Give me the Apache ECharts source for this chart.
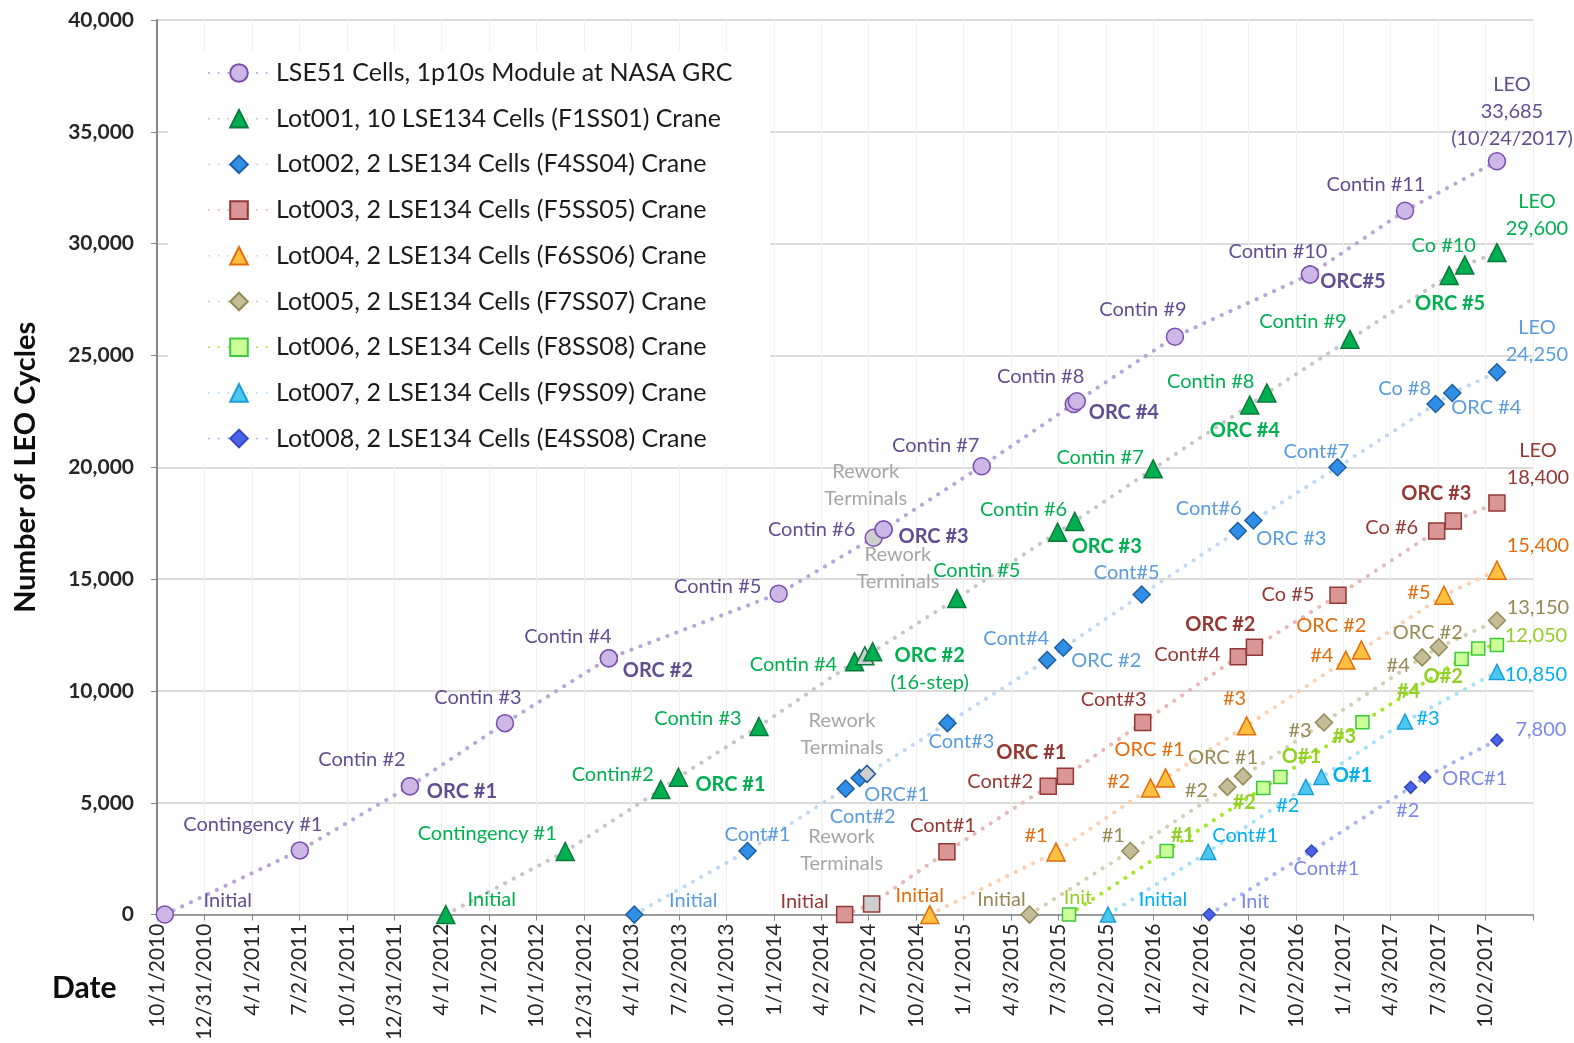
<!DOCTYPE html>
<html>
<head>
<meta charset="utf-8">
<title>LEO cycles by lot</title>
<script src="https://cdn.jsdelivr.net/npm/echarts@6/dist/echarts.min.js"></script>
<style>
  html, body { margin: 0; padding: 0; background: #fff; }
  #chart { width: 1574px; height: 1043px; }
</style>
</head>
<body>
<div id="chart"></div>
<script>
// x axis tick labels (Excel date axis, ~91.36 day step from 10/1/2010)
const dateTicks = ['10/1/2010', '12/31/2010', '4/1/2011', '7/2/2011', '10/1/2011', '12/31/2011',
  '4/1/2012', '7/1/2012', '10/1/2012', '12/31/2012', '4/1/2013', '7/2/2013', '10/1/2013',
  '1/1/2014', '4/2/2014', '7/2/2014', '10/2/2014', '1/1/2015', '4/3/2015', '7/3/2015',
  '10/2/2015', '1/2/2016', '4/2/2016', '7/2/2016', '10/2/2016', '1/1/2017', '4/3/2017',
  '7/3/2017', '10/2/2017']

const seriesNames = [
  'LSE51 Cells, 1p10s Module at NASA GRC',
  'Lot001, 10 LSE134 Cells (F1SS01) Crane',
  'Lot002, 2 LSE134 Cells (F4SS04) Crane',
  'Lot003, 2 LSE134 Cells (F5SS05) Crane',
  'Lot004, 2 LSE134 Cells (F6SS06) Crane',
  'Lot005, 2 LSE134 Cells (F7SS07) Crane',
  'Lot006, 2 LSE134 Cells (F8SS08) Crane',
  'Lot007, 2 LSE134 Cells (F9SS09) Crane',
  'Lot008, 2 LSE134 Cells (E4SS08) Crane'
]

// LSE51 module
const lse51Dates = ['2010-10-16', '2011-07-03', '2012-01-31', '2012-01-31', '2012-08-01', '2013-02-17',
  '2013-02-17', '2014-01-10', '2014-07-12', '2014-07-31', '2014-07-31', '2015-02-05', '2015-08-01',
  '2015-08-07', '2016-02-12', '2016-10-29', '2016-10-29', '2017-04-30', '2017-10-24']
const lse51Cycles = [0, 2870, 5740, 5740, 8560, 11460, 11460, 14350, 16850, 17220, 17220, 20050, 22830,
  22950, 25840, 28620, 28620, 31470, 33685]
const lse51Notes = ['Initial', 'Contingency #1', 'Contin #2', 'ORC #1', 'Contin #3', 'Contin #4', 'ORC #2',
  'Contin #5', 'Rework\nTerminals', 'Contin #6', 'ORC #3', 'Contin #7', 'Contin #8', 'ORC #4', 'Contin #9',
  'Contin #10', 'ORC#5', 'Contin #11', 'LEO\n33,685\n(10/24/2017)']

// Lot001
const lot001Dates = ['2012-04-09', '2012-11-25', '2013-05-28', '2013-07-01', '2013-12-03', '2014-06-05',
  '2014-06-25', '2014-07-10', '2014-12-19', '2015-07-01', '2015-08-03', '2016-01-01', '2016-07-05',
  '2016-08-07', '2017-01-14', '2017-07-24', '2017-08-23', '2017-10-24']
const lot001Cycles = [0, 2820, 5590, 6140, 8410, 11310, 11570, 11750, 14130, 17100, 17580, 19930, 22780,
  23320, 25720, 28580, 29040, 29600]
const lot001Notes = ['Initial', 'Contingency #1', 'Contin#2', 'ORC #1', 'Contin #3', 'Contin #4',
  'Rework\nTerminals', 'ORC #2\n(16-step)', 'Contin #5', 'Contin #6', 'ORC #3', 'Contin #7', 'Contin #8',
  'ORC #4', 'Contin #9', 'ORC #5', 'Co #10', 'LEO\n29,600']

// Lot002
const lot002Dates = ['2013-04-07', '2013-11-11', '2014-05-19', '2014-06-15', '2014-06-29', '2014-12-01',
  '2015-06-11', '2015-07-12', '2015-12-10', '2016-06-12', '2016-07-12', '2016-12-21', '2017-06-28',
  '2017-07-30', '2017-10-24']
const lot002Cycles = [0, 2840, 5630, 6110, 6290, 8560, 11380, 11930, 14310, 17150, 17620, 20000, 22830,
  23320, 24250]
const lot002Notes = ['Initial', 'Cont#1', 'Cont#2', 'ORC#1', 'Rework\nTerminals', 'Cont#3', 'Cont#4',
  'ORC #2', 'Cont#5', 'Cont#6', 'ORC #3', 'Cont#7', 'Co #8', 'ORC #4', 'LEO\n24,250']

// Lot003
const lot003Dates = ['2014-05-17', '2014-07-08', '2014-11-30', '2015-06-13', '2015-07-16', '2015-12-12',
  '2016-06-13', '2016-07-14', '2016-12-22', '2017-06-30', '2017-08-01', '2017-10-24']
const lot003Cycles = [0, 470, 2810, 5740, 6180, 8590, 11530, 11950, 14280, 17150, 17600, 18400]
const lot003Notes = ['Initial', 'Rework\nTerminals', 'Cont#1', 'Cont#2', 'ORC #1', 'Cont#3', 'Cont#4',
  'ORC #2', 'Co #5', 'Co #6', 'ORC #3', 'LEO\n18,400']

// Lot004
const lot004Dates = ['2014-10-28', '2015-06-28', '2015-12-27', '2016-01-25', '2016-06-29', '2017-01-06',
  '2017-02-05', '2017-07-14', '2017-10-24']
const lot004Cycles = [0, 2800, 5660, 6110, 8440, 11380, 11830, 14280, 15400]
const lot004Notes = ['Initial', '#1', '#2', 'ORC #1', '#3', '#4', 'ORC #2', '#5', '15,400']

// Lot005
const lot005Dates = ['2015-05-08', '2015-11-18', '2016-05-23', '2016-06-22', '2016-11-25', '2017-06-02',
  '2017-07-04', '2017-10-24']
const lot005Cycles = [0, 2840, 5710, 6180, 8590, 11500, 11950, 13150]
const lot005Notes = ['Initial', '#1', '#2', 'ORC #1', '#3', '#4', 'ORC #2', '13,150']

// Lot006
const lot006Dates = ['2015-07-23', '2016-01-27', '2016-07-31', '2016-09-02', '2017-02-07', '2017-08-17',
  '2017-09-18', '2017-10-24']
const lot006Cycles = [0, 2840, 5660, 6150, 8600, 11430, 11900, 12050]
const lot006Notes = ['Init', '#1', '#2', 'O#1', '#3', '#4', 'O#2', '12,050']

// Lot007
const lot007Dates = ['2015-10-06', '2016-04-16', '2016-10-21', '2016-11-20', '2017-04-30', '2017-10-24']
const lot007Cycles = [0, 2800, 5710, 6150, 8630, 10850]
const lot007Notes = ['Initial', 'Cont#1', '#2', 'O#1', '#3', '10,850']

// Lot008
const lot008Dates = ['2016-04-18', '2016-11-01', '2017-05-11', '2017-06-07', '2017-10-24']
const lot008Cycles = [0, 2840, 5690, 6140, 7800]
const lot008Notes = ['Init', 'Cont#1', '#2', 'ORC#1', '7,800']

// ---- styling below ----
const BASE = Date.UTC(2010, 9, 1)
const TICK_DAYS = 91.36
const toDay = (s) => (Date.parse(s) - BASE) / 86400000
const FONT = 'Lato'
const LABEL_SIZE = 20

// label centre offsets (px) from each marker
const labelOffsets = [
  [[63, -14], [-47, -26], [-48, -27], [52, 5], [-27, -26], [-41, -22], [49, 12], [-61, -7], [-8, -53],
    [-72, 0], [50, 7], [-46, -21], [-33, -27], [47, 11], [-32, -27], [-32, -23], [43, 7], [-29, -26], [15, -50]],
  [[46, -15], [-78, -18], [-48, -15], [52, 7], [-61, -8], [-61, 3], [33, -88], [57, 17], [20, -28],
    [-34, -23], [32, 25], [-53, -11], [-39, -24], [-22, 38], [-47, -18], [1, 28], [-21, -20], [40, -38]],
  [[59, -14], [10, -17], [17, 28], [37, 17], [-25, -40], [14, 18], [-31, -22], [43, 13], [-15, -22],
    [-29, -22], [38, 18], [-21, -16], [-31, -15], [34, 15], [40, -31]],
  [[-40, -13], [-30, -54], [-4, -26], [-48, -5], [-34, -24], [-29, -23], [-51, -2], [-34, -23], [-50, -1],
    [-45, -3], [-17, -27], [41, -39]],
  [[-10, -19], [-20, -16], [-32, -6], [-16, -28], [-12, -27], [-24, -5], [-30, -24], [-25, -3], [41, -25]],
  [[-28, -15], [-17, -16], [-31, 4], [-20, -19], [-24, 8], [-24, 8], [-11, -15], [41, -13]],
  [[9, -17], [16, -16], [-19, 15], [21, -20], [-18, 14], [-53, 33], [-35, 28], [39, -10]],
  [[55, -15], [37, -16], [-18, 19], [31, -1], [23, -3], [39, 3]],
  [[46, -13], [15, 17], [-3, 23], [50, 1], [44, -11]]
]

// bold: labels starting with one of these prefixes are drawn bold
const styles = [
  { symbol: 'circle', size: 17, fill: '#CDB7E6', border: '#7A4EAE', line: '#B9A6D6', text: '#5E4F92', bold: ['ORC'] },
  { symbol: 'triangle', size: 18, fill: '#00B050', border: '#0A7A3A', line: '#C6C6C6', text: '#00B050', bold: ['ORC'] },
  { symbol: 'diamond', size: 17, fill: '#2F8EE5', border: '#1F5E9E', line: '#C2D8F0', text: '#5B9BDF', bold: [] },
  { symbol: 'rect', size: 16, fill: '#D99694', border: '#953735', line: '#E6B9B8', text: '#953735', bold: ['ORC'] },
  { symbol: 'triangle', size: 18, fill: '#FFC040', border: '#E46C0A', line: '#FAD0AE', text: '#E46C0A', bold: [] },
  { symbol: 'diamond', size: 17, fill: '#C4BD97', border: '#948A54', line: '#D3CFB5', text: '#948A54', bold: [] },
  { symbol: 'rect', size: 13, fill: '#CCFF99', border: '#3CC83C', line: '#A8E62E', text: '#92D025', bold: ['#', 'O#'] },
  { symbol: 'triangle', size: 15, fill: '#4CC8F0', border: '#1A9ED8', line: '#A6E0F7', text: '#00B0F0', bold: ['O#'] },
  { symbol: 'diamond', size: 12, fill: '#4B63E8', border: '#3447C0', line: '#AAB5F2', text: '#7B87EC', bold: [] }
]

const dataSets = [
  [lse51Dates, lse51Cycles, lse51Notes],
  [lot001Dates, lot001Cycles, lot001Notes],
  [lot002Dates, lot002Cycles, lot002Notes],
  [lot003Dates, lot003Cycles, lot003Notes],
  [lot004Dates, lot004Cycles, lot004Notes],
  [lot005Dates, lot005Cycles, lot005Notes],
  [lot006Dates, lot006Cycles, lot006Notes],
  [lot007Dates, lot007Cycles, lot007Notes],
  [lot008Dates, lot008Cycles, lot008Notes]
]

function pointLabel(note, offset, st) {
  const rework = note.startsWith('Rework')
  const bold = st.bold.some((p) => note.startsWith(p))
  const lines = note.split('\n')
  let text = note
  if (bold && lines.length > 1) {
    text = '{b|' + lines[0] + '}\n{n|' + lines.slice(1).join('\n') + '}'
  }
  return {
    show: true,
    position: 'inside',
    offset: offset,
    formatter: () => text,
    color: rework ? '#A6A6A6' : st.text,
    fontFamily: FONT,
    fontSize: LABEL_SIZE,
    lineHeight: 27,
    fontWeight: bold && lines.length === 1 ? 'bold' : 'normal',
    rich: {
      b: { fontWeight: 'bold', fontFamily: FONT, fontSize: LABEL_SIZE, lineHeight: 27, color: st.text },
      n: { fontFamily: FONT, fontSize: LABEL_SIZE, lineHeight: 27, color: st.text }
    }
  }
}

function buildSeries(idx) {
  const [dates, cycles, notes] = dataSets[idx]
  const st = styles[idx]
  return {
    name: seriesNames[idx],
    type: 'line',
    symbol: st.symbol,
    symbolSize: st.size,
    showAllSymbol: true,
    itemStyle: { color: st.fill, borderColor: st.border, borderWidth: 1.5 },
    lineStyle: { color: st.line, width: 4, type: [0.1, 9.5], cap: 'round' },
    emphasis: { disabled: true },
    animation: false,
    data: dates.map((d, i) => {
      const item = {
        value: [toDay(d), cycles[i]],
        label: pointLabel(notes[i], labelOffsets[idx][i], st)
      }
      if (notes[i].startsWith('Rework')) item.itemStyle = { color: '#CFCFCF' }
      return item
    })
  }
}

const chart = echarts.init(document.getElementById('chart'))
chart.setOption({
  backgroundColor: '#ffffff',
  animation: false,
  grid: { left: 157, right: 41, top: 20, bottom: 126 },
  legend: {
    orient: 'vertical',
    left: 168,
    top: 51,
    backgroundColor: '#ffffff',
    padding: [9, 38, 13, 40],
    itemWidth: 60,
    itemHeight: 22,
    itemGap: 19.7,
    selectedMode: false,
    textStyle: { fontFamily: FONT, fontSize: 25, color: '#1a1a1a', lineHeight: 26, padding: [0, 0, 0, 2] },
    data: seriesNames
  },
  xAxis: {
    type: 'value',
    min: 0,
    max: TICK_DAYS * 29,
    interval: TICK_DAYS,
    axisLine: { lineStyle: { color: '#868686', width: 1.5 } },
    axisTick: { show: true, length: 6, lineStyle: { color: '#868686' } },
    splitLine: { show: true, lineStyle: { color: '#F0F0F0', width: 1 } },
    axisLabel: {
      rotate: 90,
      margin: 9,
      fontFamily: FONT,
      fontSize: 21,
      color: '#262626',
      formatter: (v) => dateTicks[Math.round(v / TICK_DAYS)] || ''
    }
  },
  yAxis: {
    type: 'value',
    min: 0,
    max: 40000,
    interval: 5000,
    name: 'Number of LEO Cycles',
    nameLocation: 'middle',
    nameGap: 117,
    nameTextStyle: { fontFamily: FONT, fontSize: 29, fontWeight: 'bold', color: '#0d0d0d' },
    axisLine: { show: true, lineStyle: { color: '#868686', width: 2 } },
    axisTick: { show: true, length: 6, lineStyle: { color: '#868686' } },
    splitLine: { show: true, lineStyle: { color: '#DADADA', width: 2 } },
    axisLabel: { margin: 23, fontFamily: FONT, fontSize: 21, fontWeight: 'bold', color: '#262626' }
  },
  graphic: [{
    type: 'text',
    left: 52,
    top: 973,
    style: { text: 'Date', font: 'bold 30px Lato', fill: '#0d0d0d' }
  }],
  series: seriesNames.map((_, i) => buildSeries(i))
})
</script>
</body>
</html>
